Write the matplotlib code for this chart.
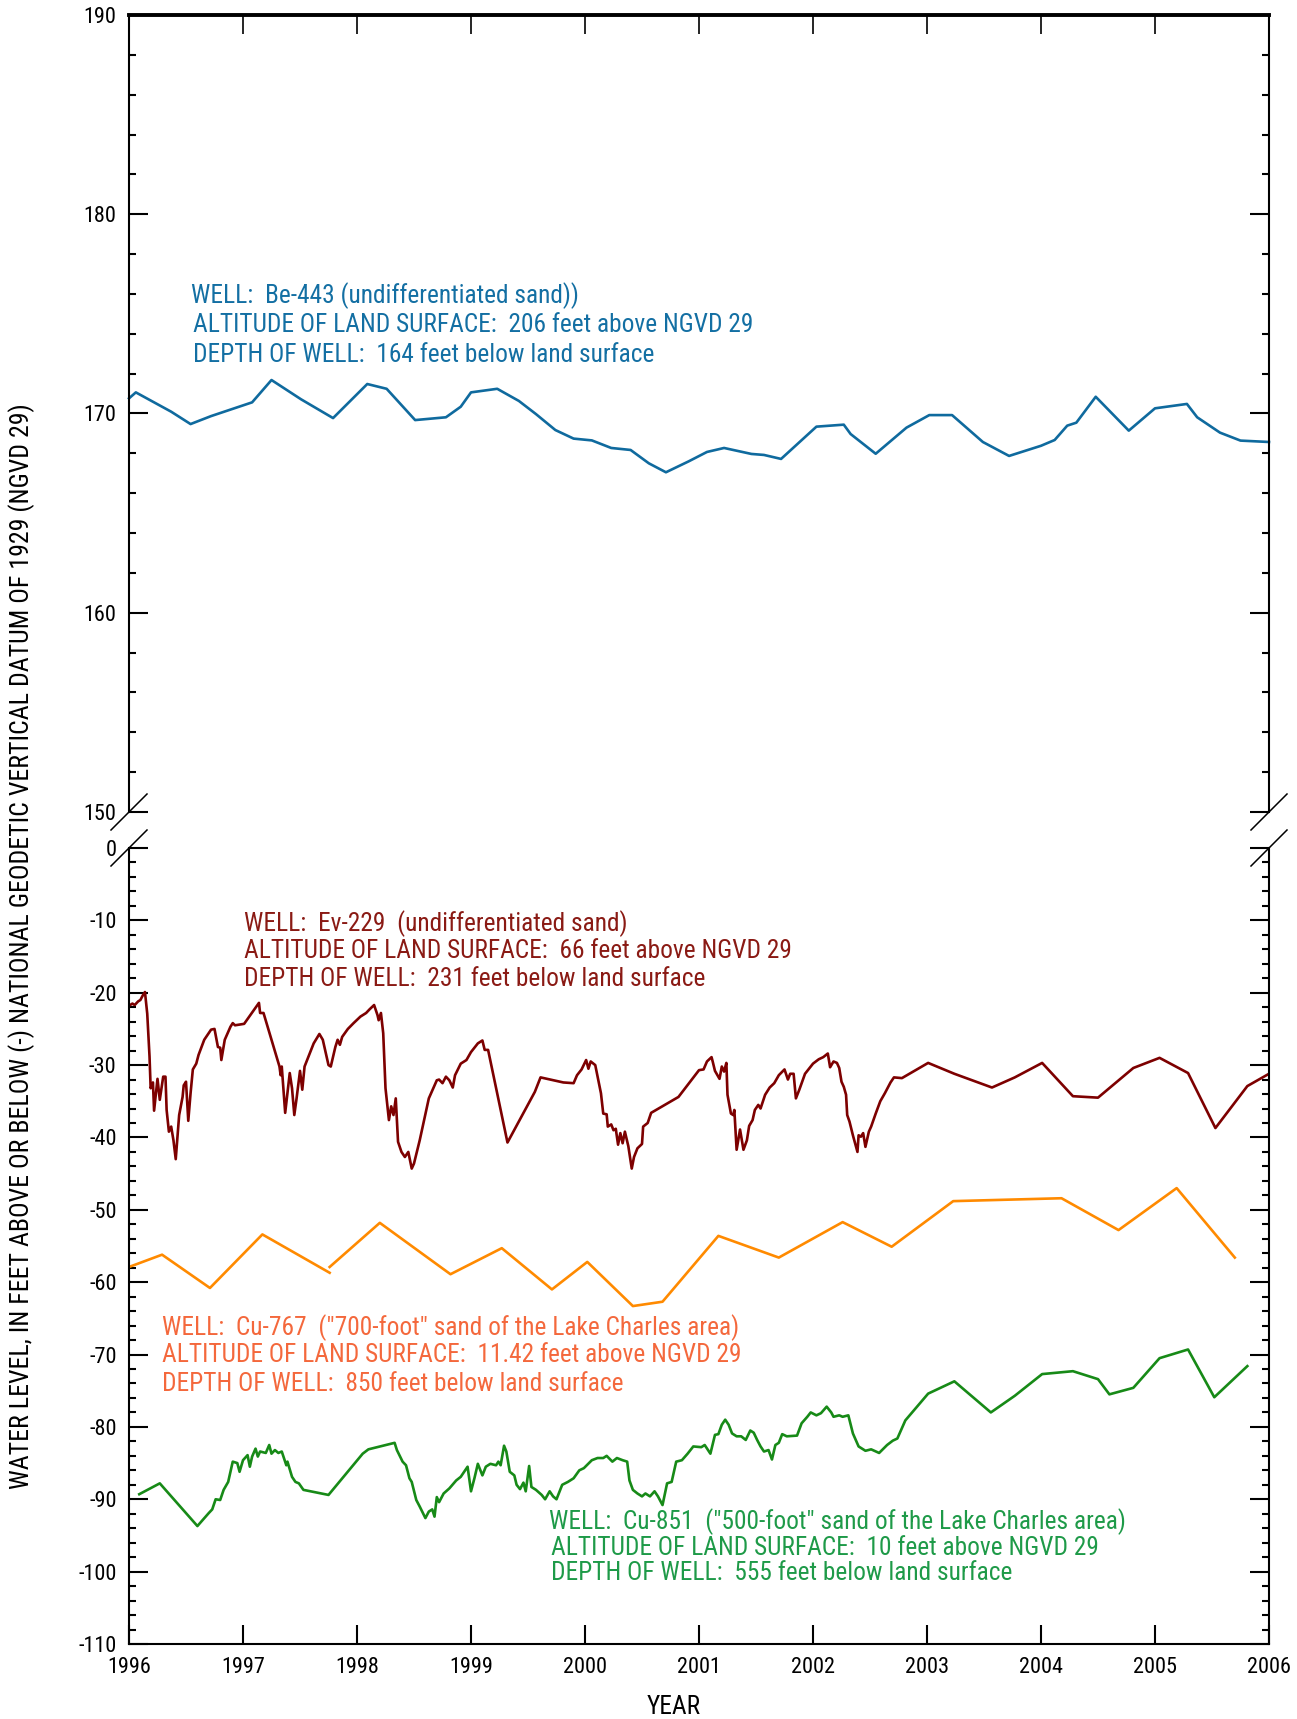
import numpy as np
import matplotlib
matplotlib.use("Agg")
import matplotlib.pyplot as plt
from matplotlib.ticker import MultipleLocator, FixedLocator

plt.rcParams['font.family'] = ['Roboto Condensed', 'DejaVu Sans']
plt.rcParams['axes.unicode_minus'] = False

# ---- Well Be-443 (undifferentiated sand), feet above NGVD 29 ----
be443_year = [1996.00, 1996.06, 1996.37, 1996.54, 1996.72, 1997.08, 1997.25, 1997.51,
              1997.79, 1998.09, 1998.26, 1998.51, 1998.78, 1998.91, 1999.00, 1999.23,
              1999.42, 1999.57, 1999.74, 1999.90, 2000.06, 2000.23, 2000.40, 2000.56,
              2000.71, 2000.91, 2001.07, 2001.22, 2001.46, 2001.57, 2001.72, 2002.03,
              2002.27, 2002.33, 2002.55, 2002.82, 2003.02, 2003.22, 2003.49, 2003.72,
              2004.00, 2004.12, 2004.23, 2004.31, 2004.48, 2004.77, 2005.00, 2005.28,
              2005.37, 2005.57, 2005.75, 2006.00]
be443_level = [170.76, 171.06, 170.09, 169.47, 169.87, 170.56, 171.68, 170.71,
               169.77, 171.48, 171.24, 169.67, 169.81, 170.34, 171.06, 171.24,
               170.63, 169.97, 169.17, 168.74, 168.65, 168.27, 168.17, 167.50,
               167.05, 167.60, 168.07, 168.27, 167.97, 167.92, 167.72, 169.34,
               169.44, 168.97, 167.98, 169.29, 169.92, 169.92, 168.57, 167.87,
               168.38, 168.67, 169.39, 169.54, 170.84, 169.14, 170.26, 170.48,
               169.81, 169.04, 168.64, 168.57]

# ---- Well Ev-229 (undifferentiated sand) ----
ev229_year = [1996.00, 1996.03, 1996.05, 1996.08, 1996.10, 1996.12, 1996.14, 1996.16,
              1996.18, 1996.19, 1996.21, 1996.22, 1996.25, 1996.27, 1996.30, 1996.32,
              1996.33, 1996.35, 1996.37, 1996.39, 1996.41, 1996.44, 1996.47, 1996.48,
              1996.50, 1996.52, 1996.54, 1996.56, 1996.59, 1996.61, 1996.66, 1996.72,
              1996.75, 1996.78, 1996.80, 1996.81, 1996.84, 1996.89, 1996.91, 1996.93,
              1997.01, 1997.14, 1997.15, 1997.18, 1997.32, 1997.33, 1997.34, 1997.37,
              1997.41, 1997.43, 1997.45, 1997.47, 1997.50, 1997.52, 1997.54, 1997.58,
              1997.62, 1997.67, 1997.70, 1997.75, 1997.77, 1997.81, 1997.83, 1997.85,
              1997.87, 1997.92, 1997.97, 1998.03, 1998.08, 1998.11, 1998.15, 1998.18,
              1998.19, 1998.21, 1998.23, 1998.25, 1998.28, 1998.30, 1998.32, 1998.34,
              1998.36, 1998.39, 1998.42, 1998.45, 1998.48, 1998.50, 1998.55, 1998.63,
              1998.70, 1998.72, 1998.75, 1998.78, 1998.81, 1998.84, 1998.86, 1998.91,
              1998.96, 1999.00, 1999.06, 1999.10, 1999.12, 1999.15, 1999.32, 1999.56,
              1999.61, 1999.81, 1999.90, 1999.93, 1999.97, 2000.01, 2000.03, 2000.05,
              2000.09, 2000.14, 2000.16, 2000.19, 2000.20, 2000.23, 2000.25, 2000.27,
              2000.29, 2000.31, 2000.33, 2000.35, 2000.38, 2000.41, 2000.43, 2000.46,
              2000.50, 2000.51, 2000.55, 2000.58, 2000.82, 2001.00, 2001.04, 2001.07,
              2001.11, 2001.12, 2001.14, 2001.18, 2001.20, 2001.22, 2001.24, 2001.25,
              2001.28, 2001.30, 2001.31, 2001.33, 2001.36, 2001.39, 2001.42, 2001.44,
              2001.47, 2001.49, 2001.52, 2001.54, 2001.58, 2001.62, 2001.66, 2001.70,
              2001.75, 2001.78, 2001.80, 2001.83, 2001.85, 2001.88, 2001.93, 2002.00,
              2002.05, 2002.09, 2002.13, 2002.15, 2002.18, 2002.21, 2002.23, 2002.25,
              2002.27, 2002.29, 2002.30, 2002.32, 2002.35, 2002.39, 2002.40, 2002.42,
              2002.44, 2002.46, 2002.49, 2002.51, 2002.55, 2002.59, 2002.63, 2002.68,
              2002.71, 2002.78, 2003.01, 2003.24, 2003.57, 2003.77, 2004.01, 2004.28,
              2004.50, 2004.81, 2005.04, 2005.29, 2005.53, 2005.81, 2006.00]
ev229_level = [-21.8, -21.5, -21.7, -21.2, -21.0, -20.4, -19.9, -22.9,
               -28.8, -33.2, -32.4, -36.3, -31.9, -34.8, -31.6, -31.6,
               -36.2, -39.2, -38.5, -40.4, -43.0, -36.9, -34.4, -32.8,
               -32.3, -37.7, -33.9, -30.6, -29.8, -28.6, -26.5, -25.1,
               -25.0, -27.5, -27.6, -29.3, -26.5, -24.7, -24.2, -24.5,
               -24.3, -21.4, -22.8, -22.8, -30.2, -31.4, -30.2, -36.6,
               -31.1, -33.2, -36.9, -34.6, -30.8, -33.4, -30.2, -28.6,
               -27.0, -25.7, -26.5, -30.0, -30.2, -27.5, -26.5, -27.2,
               -26.1, -25.0, -24.2, -23.3, -22.8, -22.3, -21.7, -23.1,
               -23.8, -22.8, -25.6, -33.2, -37.6, -35.7, -36.9, -34.6,
               -40.6, -42.0, -42.7, -42.0, -44.3, -43.6, -40.4, -34.6,
               -32.1, -32.0, -32.5, -31.6, -32.1, -33.1, -31.4, -29.8,
               -29.3, -28.2, -27.0, -26.6, -27.9, -27.9, -40.7, -33.7,
               -31.7, -32.4, -32.5, -31.4, -30.6, -29.3, -30.5, -29.5,
               -30.0, -33.9, -36.7, -36.8, -38.5, -38.2, -39.0, -38.8,
               -41.0, -39.4, -40.8, -39.2, -41.2, -44.3, -42.7, -41.5,
               -40.9, -38.5, -38.0, -36.6, -34.4, -30.7, -30.6, -29.5,
               -28.9, -29.5, -30.8, -31.9, -30.2, -30.9, -29.7, -34.1,
               -36.7, -36.9, -36.2, -41.7, -38.9, -41.7, -40.4, -38.4,
               -37.6, -36.2, -35.5, -36.0, -34.1, -33.1, -32.5, -31.4,
               -30.6, -32.0, -31.2, -31.2, -34.6, -33.4, -31.2, -29.8,
               -29.2, -28.9, -28.4, -30.3, -29.5, -29.7, -30.4, -32.3,
               -33.0, -34.1, -36.9, -37.8, -39.7, -42.0, -39.7, -39.9,
               -39.4, -41.3, -39.2, -38.5, -36.7, -35.0, -33.9, -32.4,
               -31.7, -31.8, -29.7, -31.2, -33.1, -31.7, -29.7, -34.3,
               -34.5, -30.4, -29.0, -31.1, -38.7, -32.9, -31.2]

# ---- Well Cu-767 ("700-foot" sand); NaN marks the break in the record ----
nan = float('nan')
cu767_year = [1996.00, 1996.29, 1996.71, 1997.17, 1997.76, nan, 1997.76, 1998.20,
              1998.82, 1999.27, 1999.71, 2000.02, 2000.42, 2000.68, 2001.17, 2001.70,
              2002.26, 2002.69, 2003.23, 2004.18, 2004.68, 2005.19, 2005.70]
cu767_level = [-57.9, -56.2, -60.8, -53.4, -58.7, nan, -57.9, -51.8,
               -58.9, -55.3, -61.0, -57.2, -63.3, -62.7, -53.6, -56.6,
               -51.7, -55.1, -48.8, -48.4, -52.8, -47.0, -56.6]

# ---- Well Cu-851 ("500-foot" sand) ----
cu851_year = [1996.09, 1996.27, 1996.60, 1996.70, 1996.73, 1996.76, 1996.80, 1996.83,
              1996.87, 1996.91, 1996.95, 1996.97, 1997.00, 1997.04, 1997.06, 1997.08,
              1997.11, 1997.13, 1997.15, 1997.20, 1997.23, 1997.25, 1997.28, 1997.31,
              1997.34, 1997.38, 1997.39, 1997.43, 1997.46, 1997.49, 1997.53, 1997.75,
              1998.05, 1998.10, 1998.33, 1998.35, 1998.40, 1998.43, 1998.46, 1998.48,
              1998.52, 1998.55, 1998.60, 1998.63, 1998.66, 1998.68, 1998.70, 1998.72,
              1998.76, 1998.81, 1998.87, 1998.91, 1998.94, 1998.97, 1999.00, 1999.03,
              1999.06, 1999.10, 1999.13, 1999.17, 1999.22, 1999.24, 1999.26, 1999.29,
              1999.31, 1999.34, 1999.38, 1999.40, 1999.43, 1999.46, 1999.48, 1999.51,
              1999.53, 1999.57, 1999.62, 1999.65, 1999.69, 1999.72, 1999.75, 1999.80,
              1999.85, 1999.90, 1999.95, 1999.99, 2000.06, 2000.11, 2000.16, 2000.19,
              2000.24, 2000.28, 2000.33, 2000.37, 2000.39, 2000.42, 2000.46, 2000.50,
              2000.53, 2000.57, 2000.61, 2000.64, 2000.68, 2000.72, 2000.76, 2000.80,
              2000.85, 2000.90, 2000.95, 2001.02, 2001.05, 2001.10, 2001.14, 2001.17,
              2001.20, 2001.23, 2001.26, 2001.29, 2001.33, 2001.37, 2001.41, 2001.45,
              2001.48, 2001.51, 2001.54, 2001.57, 2001.61, 2001.64, 2001.67, 2001.70,
              2001.73, 2001.77, 2001.86, 2001.90, 2001.95, 2001.98, 2002.03, 2002.07,
              2002.12, 2002.16, 2002.18, 2002.23, 2002.26, 2002.31, 2002.35, 2002.40,
              2002.46, 2002.51, 2002.58, 2002.65, 2002.70, 2002.74, 2002.81, 2003.01,
              2003.24, 2003.56, 2003.77, 2004.01, 2004.28, 2004.50, 2004.60, 2004.81,
              2005.04, 2005.29, 2005.52, 2005.81]
cu851_level = [-89.3, -87.8, -93.7, -91.9, -91.4, -90.0, -90.1, -88.7,
               -87.6, -84.8, -85.0, -86.2, -84.6, -83.9, -85.5, -84.1,
               -83.0, -84.1, -83.4, -83.6, -82.5, -83.7, -83.2, -83.6,
               -83.4, -85.3, -84.8, -86.9, -87.6, -87.8, -88.7, -89.4,
               -83.7, -83.1, -82.2, -83.2, -84.8, -85.3, -87.1, -87.6,
               -90.1, -91.0, -92.6, -91.7, -91.4, -92.4, -89.7, -90.4,
               -89.2, -88.5, -87.4, -86.9, -86.2, -85.5, -88.9, -87.1,
               -85.1, -86.7, -85.5, -85.1, -85.3, -84.8, -85.3, -82.6,
               -83.4, -86.2, -86.7, -88.0, -88.6, -87.7, -88.9, -85.4,
               -88.3, -88.7, -89.4, -90.0, -88.9, -89.6, -90.0, -88.0,
               -87.6, -87.1, -86.0, -85.7, -84.6, -84.3, -84.3, -84.0,
               -84.8, -84.3, -84.6, -84.8, -87.4, -88.7, -89.2, -89.6,
               -89.2, -89.6, -88.9, -89.6, -90.8, -87.8, -87.6, -84.8,
               -84.6, -83.7, -82.7, -82.8, -82.5, -83.7, -81.1, -81.0,
               -79.7, -79.0, -79.7, -80.9, -81.3, -81.3, -81.8, -80.5,
               -80.8, -81.8, -82.7, -83.4, -83.2, -84.5, -82.5, -82.2,
               -81.0, -81.3, -81.2, -79.5, -78.6, -78.0, -78.4, -78.1,
               -77.2, -78.0, -78.6, -78.4, -78.6, -78.4, -80.9, -82.7,
               -83.3, -83.1, -83.6, -82.5, -81.9, -81.6, -79.1, -75.4,
               -73.7, -78.0, -75.7, -72.7, -72.3, -73.4, -75.5, -74.6,
               -70.5, -69.3, -75.9, -71.6]

year_ticks = list(range(1996, 2007))
upper_ticks = [150, 160, 170, 180, 190]
lower_ticks = [-110, -100, -90, -80, -70, -60, -50, -40, -30, -20, -10, 0]

c_blue, c_blue_txt = '#0f6a9e', '#136fa3'
c_red, c_red_txt = '#7d0000', '#8a1a14'
c_orange, c_orange_txt = '#ff8a00', '#f4683c'
c_green, c_green_txt = '#178a17', '#1e9a48'

W, H = 1297, 1719
fig = plt.figure(figsize=(W / 100, H / 100), dpi=100)
left, right = 129 / W, 1269 / W
ax_top = fig.add_axes([left, 1 - 812 / H, right - left, (812 - 15) / H])
ax_bot = fig.add_axes([left, 1 - 1644 / H, right - left, (1644 - 848) / H])

fs_tick = 16
fs_txt = 18.3
for ax in (ax_top, ax_bot):
    ax.set_xlim(1996, 2006)
    ax.xaxis.set_major_locator(FixedLocator(year_ticks))
    ax.yaxis.set_minor_locator(MultipleLocator(2))
    for s in ax.spines.values():
        s.set_linewidth(1.5)
    ax.tick_params(axis='y', which='major', direction='in', length=13.5, width=1.5,
                   left=True, right=True, labelsize=fs_tick, pad=9)
    ax.tick_params(axis='y', which='minor', direction='in', length=5, width=1.5,
                   left=True, right=True)

ax_top.set_ylim(150, 190)
ax_top.yaxis.set_major_locator(FixedLocator(upper_ticks))
ax_top.spines['bottom'].set_visible(False)
ax_top.spines['top'].set_linewidth(2.8)
ax_top.tick_params(axis='x', which='major', direction='in', length=13.5, width=1.2,
                   top=True, bottom=False, labelbottom=False, labeltop=False)

ax_bot.set_ylim(-110, 0)
ax_bot.yaxis.set_major_locator(FixedLocator(lower_ticks))
ax_bot.spines['top'].set_visible(False)
ax_bot.tick_params(axis='x', which='major', direction='in', length=13.5, width=1.5,
                   top=False, bottom=True, labelsize=fs_tick, pad=9)

# series
ax_top.plot(be443_year, be443_level, color=c_blue, lw=1.9, clip_on=False)
ax_bot.plot(ev229_year, ev229_level, color=c_red, lw=1.9)
ax_bot.plot(cu767_year, cu767_level, color=c_orange, lw=1.9)
ax_bot.plot(cu851_year, cu851_level, color=c_green, lw=1.9)

# axis break marks
dx_top, dy_top = 18 / 1140, 18 / 797
dx_bot, dy_bot = 18 / 1140, 18 / 796
for xa in (0, 1):
    ax_top.plot([xa - dx_top, xa + dx_top], [-dy_top, dy_top], transform=ax_top.transAxes,
                color='black', lw=1.1, clip_on=False)
    ax_bot.plot([xa - dx_bot, xa + dx_bot], [1 - dy_bot, 1 + dy_bot], transform=ax_bot.transAxes,
                color='black', lw=1.1, clip_on=False)

# well descriptions
def block(ax, x0, x1, ys, lines, color):
    for i, (y, txt) in enumerate(zip(ys, lines)):
        ax.text(x0 if i == 0 else x1, y, txt, color=color, fontsize=fs_txt,
                ha='left', va='center')

block(ax_top, 1996.54, 1996.56, [175.9, 174.45, 172.95],
      ['WELL:  Be-443 (undifferentiated sand))',
       'ALTITUDE OF LAND SURFACE:  206 feet above NGVD 29',
       'DEPTH OF WELL:  164 feet below land surface'], c_blue_txt)
block(ax_bot, 1997.01, 1997.01, [-10.4, -14.2, -18.1],
      ['WELL:  Ev-229  (undifferentiated sand)',
       'ALTITUDE OF LAND SURFACE:  66 feet above NGVD 29',
       'DEPTH OF WELL:  231 feet below land surface'], c_red_txt)
block(ax_bot, 1996.29, 1996.29, [-66.3, -70.1, -74.1],
      ['WELL:  Cu-767  ("700-foot" sand of the Lake Charles area)',
       'ALTITUDE OF LAND SURFACE:  11.42 feet above NGVD 29',
       'DEPTH OF WELL:  850 feet below land surface'], c_orange_txt)
block(ax_bot, 1999.68, 1999.70, [-93.1, -96.7, -100.2],
      ['WELL:  Cu-851  ("500-foot" sand of the Lake Charles area)',
       'ALTITUDE OF LAND SURFACE:  10 feet above NGVD 29',
       'DEPTH OF WELL:  555 feet below land surface'], c_green_txt)

fig.text(22 / W, 1 - 946 / H,
         'WATER LEVEL, IN FEET ABOVE OR BELOW (-) NATIONAL GEODETIC VERTICAL DATUM OF 1929 (NGVD 29)',
         rotation=90, ha='center', va='center', fontsize=18.6)
fig.text(674 / W, 1 - 1707 / H, 'YEAR', ha='center', va='center', fontsize=fs_txt)

fig.savefig('out.png', dpi=100)
